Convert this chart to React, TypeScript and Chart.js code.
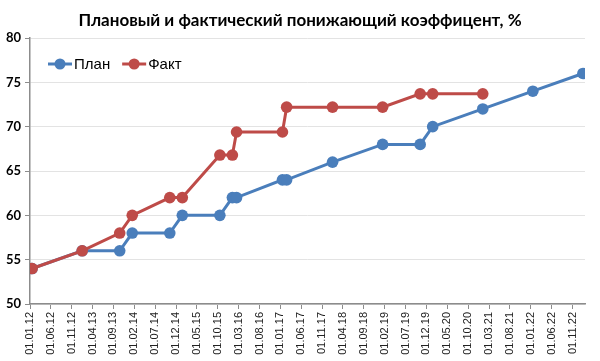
import React, { useEffect, useRef } from 'react';
import { Chart, registerables } from 'chart.js';

Chart.register(...registerables);

const chartTitle = 'Плановый и фактический понижающий коэффицент, %';
const seriesNames = ['План', 'Факт'];

const planDates = ['01.01.12', '01.01.13', '01.10.13', '01.01.14', '01.10.14', '01.01.15', '01.10.15', '01.01.16', '01.02.16', '01.01.17', '01.02.17', '01.01.18', '01.01.19', '01.10.19', '01.01.20', '01.01.21', '01.01.22', '01.01.23'];
const planValues = [54, 56, 56, 58, 58, 60, 60, 62, 62, 64, 64, 66, 68, 68, 70, 72, 74, 76];

const factDates = ['01.01.12', '01.01.13', '01.10.13', '01.01.14', '01.10.14', '01.01.15', '01.10.15', '01.01.16', '01.02.16', '01.01.17', '01.02.17', '01.01.18', '01.01.19', '01.10.19', '01.01.20', '01.01.21'];
const factValues = [54, 56, 58, 60, 62, 62, 66.8, 66.8, 69.4, 69.4, 72.2, 72.2, 72.2, 73.7, 73.7, 73.7];

const yTicks = [50, 55, 60, 65, 70, 75, 80];
const xStartLabel = '01.01.12';
const xEndLabel = '01.11.22';

const BLUE = '#4a7ebb';
const RED = '#be4b48';

// month slot index since Jan 2012 (dates are placed in the middle of their month slot)
function monthIndex(s: string): number {
  const [d, m, y] = s.split('.').map(Number);
  return (y - 12) * 12 + (m - 1) + (d - 1) / 30;
}

function pad(n: number) {
  return n < 10 ? '0' + n : '' + n;
}

function labelFor(v: number): string {
  const mi = Math.round(v);
  const y = 12 + Math.floor(mi / 12);
  const m = (mi % 12) + 1;
  return '01.' + pad(m) + '.' + pad(y);
}

const centerTitlePlugin = {
  id: 'centerTitle',
  afterLayout(chart: any) {
    const t = chart.titleBlock;
    if (t) {
      t.left = 0;
      t.right = chart.width;
      t.width = chart.width;
    }
  },
};

const legendPlugin = {
  id: 'insideLegend',
  afterDraw(chart: any) {
    const ctx = chart.ctx;
    const y = 64;
    let x = 48;
    ctx.save();
    ctx.font = '15px "Liberation Sans", Arial, sans-serif';
    ctx.textBaseline = 'middle';
    chart.data.datasets.forEach((ds: any) => {
      ctx.strokeStyle = ds.borderColor;
      ctx.lineWidth = 3;
      ctx.beginPath();
      ctx.moveTo(x, y);
      ctx.lineTo(x + 24, y);
      ctx.stroke();
      ctx.fillStyle = ds.borderColor;
      ctx.beginPath();
      ctx.arc(x + 12, y, 5.5, 0, Math.PI * 2);
      ctx.fill();
      ctx.fillStyle = '#000';
      ctx.fillText(ds.label, x + 26, y + 1);
      x += 26 + ctx.measureText(ds.label).width + 12;
    });
    ctx.restore();
  },
};

export default function App() {
  const ref = useRef<HTMLCanvasElement | null>(null);
  useEffect(() => {
    if (!ref.current) return;
    const chart = new Chart(ref.current, {
      type: 'line',
      data: {
        datasets: [
          {
            label: seriesNames[0],
            data: planDates.map((d, i) => ({ x: monthIndex(d) + 0.5, y: planValues[i] })),
            borderColor: BLUE,
            backgroundColor: BLUE,
            borderWidth: 3,
            pointRadius: 5.8,
            pointBorderWidth: 0,
            pointBackgroundColor: BLUE,
            tension: 0,
            order: 2,
          },
          {
            label: seriesNames[1],
            data: factDates.map((d, i) => ({ x: monthIndex(d) + 0.5, y: factValues[i] })),
            borderColor: RED,
            backgroundColor: RED,
            borderWidth: 3,
            pointRadius: 5.8,
            pointBorderWidth: 0,
            pointBackgroundColor: RED,
            tension: 0,
            order: 1,
          },
        ],
      },
      options: {
        responsive: false,
        animation: false,
        layout: { padding: { left: 0, right: 15, top: 0, bottom: 0 } },
        plugins: {
          legend: { display: false },
          tooltip: { enabled: false },
          title: {
            display: true,
            text: chartTitle,
            color: '#000',
            font: { family: 'Lato, "Open Sans", sans-serif', size: 17, weight: 'bold', lineHeight: 1.2 },
            padding: { top: 10, bottom: 7.6 },
          },
        },
        scales: {
          x: {
            type: 'linear',
            min: monthIndex(xStartLabel),
            max: monthIndex(xEndLabel) + 3,
            afterFit: (s: any) => { s.height = 57; },
            afterBuildTicks: (s: any) => {
              const ticks = [];
              for (let v = monthIndex(xStartLabel); v <= monthIndex(xEndLabel); v += 5) ticks.push({ value: v });
              s.ticks = ticks;
            },
            ticks: {
              autoSkip: false,
              maxRotation: 90,
              minRotation: 90,
              padding: 3,
              color: '#222',
              font: { family: '"Liberation Sans", Arial, sans-serif', size: 11 },
              callback: (v: any) => labelFor(Number(v)),
            },
            grid: { drawOnChartArea: false, drawTicks: true, tickLength: 5, color: '#8c8c8c' },
            border: { color: '#8c8c8c', width: 1.5 },
          },
          y: {
            min: yTicks[0],
            max: yTicks[yTicks.length - 1],
            afterFit: (s: any) => { s.width = 30; },
            afterBuildTicks: (s: any) => { s.ticks = yTicks.map((v) => ({ value: v })); },
            ticks: {
              padding: 4,
              color: '#000',
              font: { family: 'Lato, "Open Sans", sans-serif', size: 13, weight: 'bold' },
            },
            grid: { color: '#e3e3e3', tickColor: '#8c8c8c', tickLength: 5, lineWidth: 1 },
            border: { color: '#8c8c8c', width: 1.5 },
          },
        },
      },
      plugins: [centerTitlePlugin, legendPlugin],
    } as any);
    return () => chart.destroy();
  }, []);
  return (
    <div style={{ position: 'absolute', left: 0, top: 0, width: 600, height: 361, background: '#fff' }}>
      <canvas ref={ref} width={600} height={361} />
    </div>
  );
}
